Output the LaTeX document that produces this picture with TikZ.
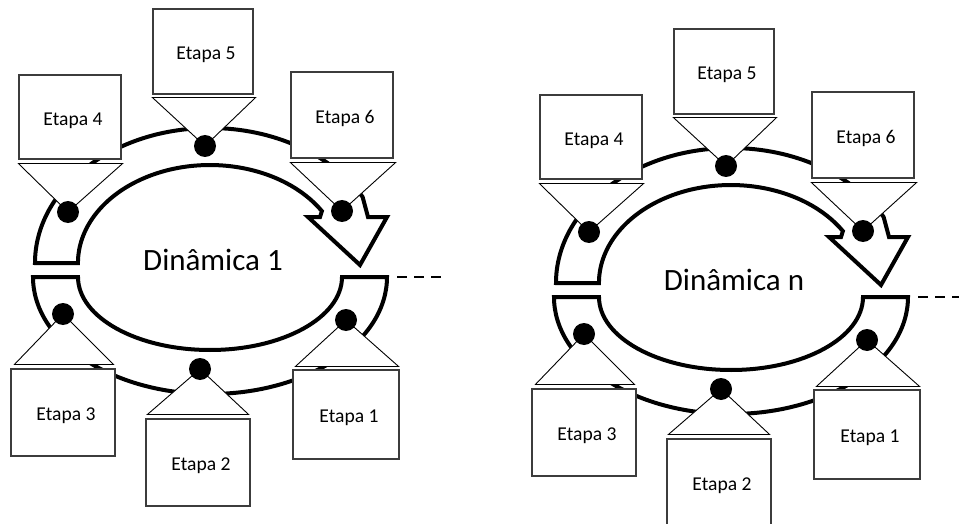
\documentclass[tikz,border=0pt]{standalone}
\usepackage{fontspec}
\setmainfont{Carlito}
\definecolor{boxgray}{RGB}{60,60,60}
\tikzset{
  x=1pt, y=1pt,
  band/.style={draw=black, line width=4pt, fill=white, line join=miter},
  stepbox/.style={rectangle, draw=boxgray, line width=1.1pt, fill=white, inner sep=0pt},
  steptext/.style={font=\fontsize{19.6}{19.6}\selectfont, xshift=3pt, yshift=-3.5pt},
  pointer/.style={draw=black, line width=0.9pt, fill=white, line join=miter},
  stepdot/.style={circle, fill=black, minimum size=22pt, inner sep=0pt},
  cycletitle/.style={font=\fontsize{31}{31}\selectfont, anchor=base, inner sep=0pt},
  link/.style={draw=black, line width=2.4pt, dash pattern=on 10pt off 7pt, dash phase=10pt},
}
\newcommand\cyclepic[2]{%
  % upper band with arrow head
  \draw[band] (35,-263) arc[start angle=180, end angle=29.3, x radius=175, y radius=135]
    -- (368,-217) -- (387,-217) -- (360,-265) -- (308,-217) -- (320,-217) -- (321.9,-211.1)
    arc[start angle=32, end angle=180, x radius=132, y radius=98] -- cycle;
  % lower band
  \draw[band] (33,-277) arc[start angle=180, end angle=360, x radius=177, y radius=117]
    -- (342,-277) arc[start angle=0, end angle=-180, x radius=132, y radius=73] -- cycle;
  \coordinate (j#2) at (390,-277);
  \coordinate (k#2) at (447,-277);
  \draw[link] (j#2) -- (k#2);
  % boxes
  \node[stepbox, minimum width=100, minimum height=85, label={[steptext]center:Etapa 5}] (e5#2) at (203,-51.5) {};
  \node[stepbox, minimum width=102, minimum height=84, label={[steptext]center:Etapa 4}] (e4#2) at (70,-117) {};
  \node[stepbox, minimum width=102, minimum height=86, label={[steptext]center:Etapa 6}] (e6#2) at (342,-115) {};
  \node[stepbox, minimum width=104, minimum height=87, label={[steptext]center:Etapa 3}] (e3#2) at (63,-412.5) {};
  \node[stepbox, minimum width=104, minimum height=87, label={[steptext]center:Etapa 2}] (e2#2) at (198,-462.5) {};
  \node[stepbox, minimum width=106, minimum height=89, label={[steptext]center:Etapa 1}] (e1#2) at (346,-414.5) {};
  % dot positions
  \coordinate (p5#2) at (205,-146);
  \coordinate (p4#2) at (68,-212);
  \coordinate (p6#2) at (342,-211);
  \coordinate (p3#2) at (63,-314);
  \coordinate (p2#2) at (200,-369);
  \coordinate (p1#2) at (346,-320);
  % pointers
  \draw[pointer] (p5#2) -- ([yshift=-3]e5#2.south west) -- ([xshift=2,yshift=-3]e5#2.south east) -- cycle;
  \draw[pointer] (p4#2) -- ([yshift=-4]e4#2.south west) -- ([xshift=1,yshift=-4]e4#2.south east) -- cycle;
  \draw[pointer] (p6#2) -- ([yshift=-4]e6#2.south west) -- ([xshift=2,yshift=-4]e6#2.south east) -- cycle;
  \draw[pointer] (p3#2) -- ([xshift=4,yshift=4]e3#2.north west) -- ([xshift=-2,yshift=4]e3#2.north east) -- cycle;
  \draw[pointer] (p2#2) -- ([xshift=2,yshift=4]e2#2.north west) -- ([xshift=-2,yshift=4]e2#2.north east) -- cycle;
  \draw[pointer] (p1#2) -- ([xshift=3,yshift=3]e1#2.north west) -- ([xshift=-1,yshift=3]e1#2.north east) -- cycle;
  % dots
  \foreach \i in {1,...,6} { \node[stepdot] (d\i#2) at (p\i#2) {}; }
  % title
  \node[cycletitle] (t#2) at (213,-270) {#1};
}
\begin{document}
\begin{tikzpicture}
  \useasboundingbox (0,0) rectangle (959,-524);
  \clip (0,0) rectangle (959,-524);
  \begin{scope}
    \cyclepic{Dinâmica 1}{a}
  \end{scope}
  \begin{scope}[shift={(521,-20)}]
    \cyclepic{Dinâmica n}{b}
  \end{scope}
\end{tikzpicture}
\end{document}
